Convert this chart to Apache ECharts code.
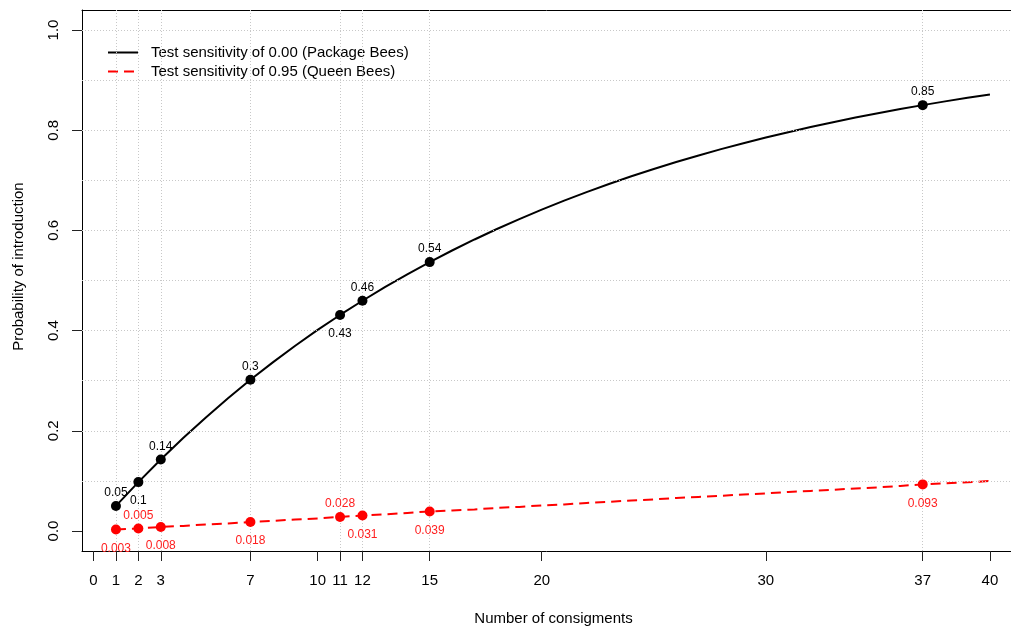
<!DOCTYPE html>
<html>
<head>
<meta charset="utf-8">
<script src="https://cdn.jsdelivr.net/npm/echarts@6/dist/echarts.min.js"></script>
<style>
  html, body { margin: 0; padding: 0; background: #fff; }
  #chart { width: 1011px; height: 626px; }
</style>
</head>
<body>
<div id="chart"></div>
<script>
// number of consignments, 1..40
const consignments = [1, 2, 3, 4, 5, 6, 7, 8, 9, 10, 11, 12, 13, 14, 15, 16, 17, 18, 19, 20,
  21, 22, 23, 24, 25, 26, 27, 28, 29, 30, 31, 32, 33, 34, 35, 36, 37, 38, 39, 40]

// probability of introduction, package bees (sensitivity 0.00)
const packageBees = [0.0500, 0.0975, 0.1426, 0.1855, 0.2262, 0.2649, 0.3017, 0.3366, 0.3698, 0.4013,
  0.4312, 0.4596, 0.4867, 0.5123, 0.5367, 0.5599, 0.5819, 0.6028, 0.6226, 0.6415,
  0.6594, 0.6765, 0.6926, 0.7080, 0.7226, 0.7365, 0.7497, 0.7622, 0.7741, 0.7854,
  0.7961, 0.8063, 0.8160, 0.8252, 0.8339, 0.8422, 0.8501, 0.8576, 0.8647, 0.8715]

// probability of introduction, queen bees (sensitivity 0.95)
const queenBees = [0.003, 0.005, 0.008, 0.010, 0.013, 0.015, 0.018, 0.020, 0.023, 0.025,
  0.028, 0.031, 0.033, 0.036, 0.039, 0.041, 0.043, 0.046, 0.048, 0.051,
  0.053, 0.056, 0.058, 0.061, 0.063, 0.066, 0.068, 0.070, 0.073, 0.075,
  0.078, 0.080, 0.082, 0.085, 0.087, 0.090, 0.093, 0.095, 0.097, 0.100]

// the highlighted consignment counts
const markedPoints = [1, 2, 3, 7, 11, 12, 15, 37]

// axis ticks
const xTicks = [0, 1, 2, 3, 7, 10, 11, 12, 15, 20, 30, 37, 40]
const yTicks = [0, 0.2, 0.4, 0.6, 0.8, 1.0]
const yGrid = [0.1, 0.2, 0.3, 0.4, 0.5, 0.6, 0.7, 0.8, 0.9, 1.0]

const seriesNames = ['Test sensitivity of 0.00 (Package Bees)', 'Test sensitivity of 0.95 (Queen Bees)']

// where each value label sits (top = above the point)
const blackLabelPos = ['top', 'bottom', 'top', 'top', 'bottom', 'top', 'top', 'top']
const redLabelPos = ['bottom', 'top', 'bottom', 'bottom', 'top', 'bottom', 'bottom', 'bottom']

const font = "'Liberation Sans', Arial, Helvetica, sans-serif"

const toPairs = (ys) => consignments.map((x, i) => [x, ys[i]])

const markedData = (ys, positions, digits) => markedPoints.map((n, i) => {
  const v = ys[consignments.indexOf(n)]
  const p = positions[i]
  return {
    value: [n, v],
    label: {
      position: p,
      distance: p === 'top' ? 2 : 8,
      formatter: String(Number(v.toFixed(digits)))
    }
  }
})

const chart = echarts.init(document.getElementById('chart'))

const option = {
  animation: false,
  textStyle: { fontFamily: font },
  grid: { left: 82, right: 0, top: 10, bottom: 75, outerBoundsMode: 'none', containLabel: false },
  legend: {
    data: seriesNames,
    orient: 'vertical',
    left: 107, top: 45,
    padding: 0,
    itemWidth: 30, itemHeight: 14, itemGap: 4,
    itemStyle: { opacity: 0 },
    textStyle: { fontSize: 15, color: '#000', fontFamily: font, padding: [0, 0, 0, 8] }
  },
  xAxis: [
    {
      type: 'value',
      min: -0.515, max: 40.94,
      name: 'Number of consigments',
      nameLocation: 'middle',
      nameGap: 60,
      nameTextStyle: { fontSize: 15, color: '#000', fontFamily: font, padding: [0, 0, 0, 14] },
      axisLine: { show: true, onZero: false, lineStyle: { color: '#000', width: 1 } },
      axisTick: { show: true, customValues: xTicks, length: 10, lineStyle: { color: '#222' } },
      axisLabel: { customValues: xTicks, fontSize: 15, color: '#000', margin: 22, fontFamily: font },
      splitLine: { show: false }
    },
    {
      // top edge of the box
      type: 'value',
      position: 'top',
      min: -0.515, max: 40.94,
      axisLine: { show: true, onZero: false, lineStyle: { color: '#000', width: 1 } },
      axisTick: { show: false },
      axisLabel: { show: false },
      splitLine: { show: false }
    }
  ],
  yAxis: {
    type: 'value',
    min: -0.04, max: 1.04,
    name: 'Probability of introduction',
    nameLocation: 'middle',
    nameGap: 56,
    nameTextStyle: { fontSize: 15, color: '#000', fontFamily: font, padding: [0, 0, 0, 28] },
    axisLine: { show: true, onZero: false, lineStyle: { color: '#000', width: 1 } },
    axisTick: { show: true, customValues: yTicks, length: 10, lineStyle: { color: '#222' } },
    axisLabel: {
      customValues: yTicks, rotate: 90, fontSize: 15, color: '#000', margin: 21, fontFamily: font,
      formatter: (v) => v.toFixed(1)
    },
    splitLine: { show: false }
  },
  series: [
    {
      // dotted reference grid
      type: 'line',
      data: [],
      silent: true,
      z: 1,
      markLine: {
        silent: true,
        symbol: 'none',
        animation: false,
        label: { show: false },
        lineStyle: { color: '#c8c8c8', type: [1, 2], width: 1 },
        data: markedPoints.map(x => ({ xAxis: x })).concat(yGrid.map(y => ({ yAxis: y })))
      }
    },
    {
      name: seriesNames[0],
      type: 'line',
      data: toPairs(packageBees),
      symbol: 'none',
      z: 3,
      lineStyle: { color: '#000', width: 2 },
      itemStyle: { color: '#000' }
    },
    {
      name: seriesNames[1],
      type: 'line',
      data: toPairs(queenBees),
      symbol: 'none',
      z: 3,
      lineStyle: { color: '#ff0000', width: 2, type: [10, 6] },
      itemStyle: { color: '#ff0000' }
    },
    {
      type: 'scatter',
      data: markedData(packageBees, blackLabelPos, 2),
      symbol: 'circle',
      symbolSize: 10,
      z: 5,
      itemStyle: { color: '#000', opacity: 1, borderWidth: 0 },
      label: { show: true, fontSize: 12, color: '#000', fontFamily: font }
    },
    {
      type: 'scatter',
      data: markedData(queenBees, redLabelPos, 3),
      symbol: 'circle',
      symbolSize: 10,
      z: 5,
      itemStyle: { color: '#ff0000', opacity: 1, borderWidth: 0 },
      label: { show: true, fontSize: 12, color: '#ff2020', fontFamily: font }
    }
  ]
}

chart.setOption(option)
</script>
</body>
</html>
